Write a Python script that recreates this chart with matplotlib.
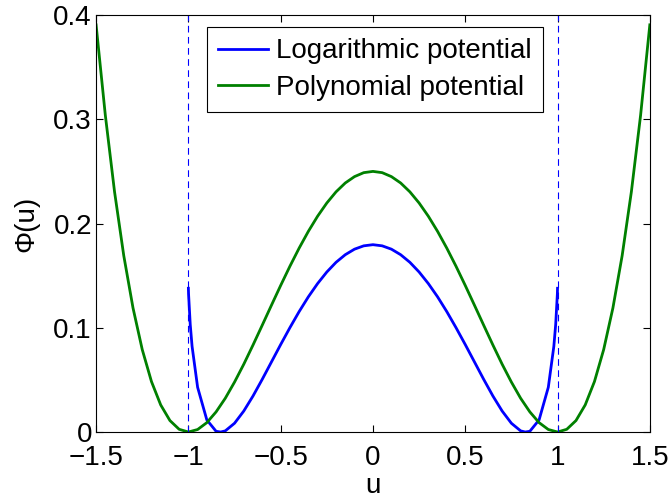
#!/usr/bin/env python3

import matplotlib
matplotlib.use('Agg')
import matplotlib.pyplot as plt
import numpy as np

# Values
u_poly = [-1.5, -1.45, -1.4, -1.35, -1.3, -1.25, -1.2, -1.15, -1.1, -1.05,
          -1.0, -0.95, -0.9, -0.85, -0.8, -0.75, -0.7, -0.65, -0.6, -0.55,
          -0.5, -0.45, -0.4, -0.35, -0.3, -0.25, -0.2, -0.15, -0.1, -0.05,
          0.0, 0.05, 0.1, 0.15, 0.2, 0.25, 0.3, 0.35, 0.4, 0.45,
          0.5, 0.55, 0.6, 0.65, 0.7, 0.75, 0.8, 0.85, 0.9, 0.95,
          1.0, 1.05, 1.1, 1.15, 1.2, 1.25, 1.3, 1.35, 1.4, 1.45, 1.5]
phi_poly = [0.3906, 0.3039, 0.2304, 0.1691, 0.1190, 0.0791, 0.0484, 0.0260, 0.0110, 0.0026,
            0.0, 0.0024, 0.0090, 0.0193, 0.0324, 0.0479, 0.0650, 0.0834, 0.1024, 0.1216,
            0.1406, 0.1590, 0.1764, 0.1925, 0.2070, 0.2197, 0.2304, 0.2389, 0.2450, 0.2488,
            0.25, 0.2488, 0.2450, 0.2389, 0.2304, 0.2197, 0.2070, 0.1925, 0.1764, 0.1590,
            0.1406, 0.1216, 0.1024, 0.0834, 0.0650, 0.0479, 0.0324, 0.0193, 0.0090, 0.0024,
            0.0, 0.0026, 0.0110, 0.0260, 0.0484, 0.0791, 0.1190, 0.1691, 0.2304, 0.3039, 0.3906]

u_log = [-1.0, -0.999, -0.99, -0.98, -0.95, -0.9, -0.85, -0.825, -0.8, -0.75,
         -0.7, -0.65, -0.6, -0.55, -0.5, -0.45, -0.4, -0.35, -0.3, -0.25,
         -0.2, -0.15, -0.1, -0.05, 0.0, 0.05, 0.1, 0.15, 0.2, 0.25,
         0.3, 0.35, 0.4, 0.45, 0.5, 0.55, 0.6, 0.65, 0.7, 0.75,
         0.8, 0.825, 0.85, 0.9, 0.95, 0.98, 0.99, 0.999, 1.0]
phi_log = [0.1379, 0.1322, 0.1032, 0.0822, 0.0429, 0.0116, 0.0007, 0.0, 0.0011, 0.0084,
           0.0201, 0.0345, 0.0505, 0.0672, 0.0839, 0.1001, 0.1155, 0.1297, 0.1424, 0.1535,
           0.1628, 0.1701, 0.1754, 0.1786, 0.1797, 0.1786, 0.1754, 0.1701, 0.1628, 0.1535,
           0.1424, 0.1297, 0.1155, 0.1001, 0.0839, 0.0672, 0.0505, 0.0345, 0.0201, 0.0084,
           0.0011, 0.0, 0.0007, 0.0116, 0.0429, 0.0822, 0.1032, 0.1322, 0.1379]

bounds = [-1.0, 1.0]

plt.rcParams['font.family'] = ['Liberation Sans', 'DejaVu Sans']
plt.rcParams['font.size'] = 20

fig = plt.figure(figsize=(6.72, 4.98), dpi=100)
ax = fig.add_axes([0.143, 0.1325, 0.824, 0.8373])

ax.plot(u_log, phi_log, color=(0, 0, 1), lw=2, label='Logarithmic potential')
ax.plot(u_poly, phi_poly, color=(0, 0.5, 0), lw=2, label='Polynomial potential')
for b in bounds:
    ax.axvline(b, color=(0, 0, 1), lw=0.8, ls=(0, (6, 4)))

ax.set_xlim(-1.5, 1.5)
ax.set_ylim(0, 0.4)
ax.set_xticks([-1.5, -1, -0.5, 0, 0.5, 1, 1.5])
ax.set_xticklabels(['\u22121.5', '\u22121', '\u22120.5', '0', '0.5', '1', '1.5'])
ax.set_yticks([0, 0.1, 0.2, 0.3, 0.4])
ax.set_yticklabels(['0', '0.1', '0.2', '0.3', '0.4'])
ax.tick_params(direction='in', top=True, right=True, length=5, width=0.8)
ax.tick_params(axis='x', pad=9)
ax.tick_params(axis='y', pad=3)
for s in ax.spines.values():
    s.set_linewidth(0.8)

ax.set_xlabel('u', labelpad=1.5)
ax.set_ylabel('\u03a6(u)', labelpad=10)

leg = ax.legend(loc='upper center', bbox_to_anchor=(0.503, 0.971), fancybox=False,
                edgecolor='black', framealpha=1, handlelength=1.8,
                borderpad=0.4, labelspacing=0.38, handletextpad=0.3, borderaxespad=0)
leg.get_frame().set_linewidth(0.8)

fig.savefig('out.png', dpi=100)
